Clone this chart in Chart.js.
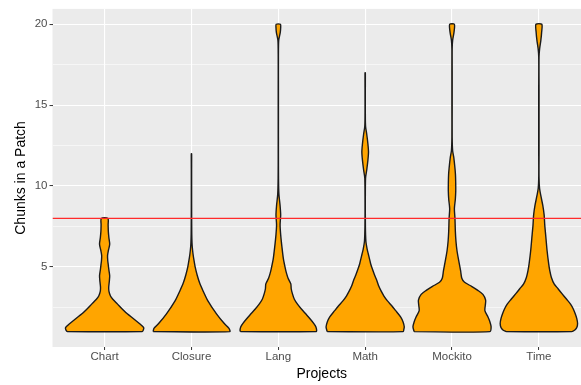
<!doctype html>
<meta charset="utf-8">
<style>
    html, body { margin: 0; background: #fff; overflow: hidden; }
</style>
<canvas id="chart" width="591" height="385"></canvas>
<script src="https://cdn.jsdelivr.net/npm/chart.js@4.4.1/dist/chart.umd.min.js"></script>
<script>
    const projects = ["Chart", "Closure", "Lang", "Math", "Mockito", "Time"];
    const cutoff = 8;
    const yTicks = [2.5, 5, 7.5, 10, 12.5, 15, 17.5, 20];

    // violin outlines: chunk count levels and relative half-width (1 = widest) at each level
    const chartY = [1.0, 1.1, 1.25, 1.5, 1.8, 2.1, 2.4, 2.7, 3.0, 3.2, 3.5, 3.75, 4.1, 4.45, 4.8, 5.1, 5.4, 5.7, 6.0, 6.4, 6.8, 7.2, 7.6, 8.0];
    const chartW = [0.96, 0.99, 1.0, 0.89, 0.74, 0.58, 0.45, 0.33, 0.21, 0.15, 0.11, 0.105, 0.12, 0.13, 0.11, 0.095, 0.08, 0.075, 0.095, 0.13, 0.11, 0.095, 0.09, 0.085];

    const closureY = [1.0, 1.2, 1.5, 2.1, 2.9, 3.5, 4.0, 4.5, 5.0, 5.4, 5.8, 6.2, 6.5, 7.0, 8.0, 9.0, 10.0, 11.0, 12.0];
    const closureW = [0.98, 0.96, 0.84, 0.64, 0.42, 0.30, 0.21, 0.145, 0.094, 0.065, 0.04, 0.022, 0.014, 0.008, 0.005, 0.004, 0.004, 0.004, 0.004];

    const langY = [1.0, 1.1, 1.3, 1.5, 1.8, 2.1, 2.4, 2.7, 3.0, 3.35, 3.65, 3.95, 4.3, 4.6, 4.9, 5.5, 6.2, 7.0, 7.6, 8.2, 8.8, 9.5, 10.5, 12, 14, 16, 18, 19.0, 19.5, 19.8, 20.0];
    const langW = [0.97, 0.98, 0.96, 0.91, 0.81, 0.70, 0.59, 0.49, 0.41, 0.36, 0.33, 0.32, 0.25, 0.21, 0.18, 0.13, 0.094, 0.06, 0.045, 0.06, 0.045, 0.015, 0.005, 0.003, 0.003, 0.003, 0.003, 0.01, 0.05, 0.06, 0.055];

    const mathY = [1.0, 1.15, 1.3, 1.6, 1.9, 2.3, 2.6, 2.9, 3.2, 3.5, 3.8, 4.15, 4.5, 4.9, 5.2, 5.5, 5.8, 6.1, 6.6, 7.5, 9.0, 10.5, 11.0, 11.6, 12.1, 12.6, 13.2, 13.7, 14.5, 16.0, 17.0];
    const mathW = [0.97, 0.99, 1.0, 0.97, 0.91, 0.78, 0.68, 0.57, 0.48, 0.41, 0.35, 0.30, 0.24, 0.18, 0.14, 0.11, 0.08, 0.05, 0.018, 0.006, 0.004, 0.01, 0.04, 0.07, 0.085, 0.07, 0.04, 0.01, 0.004, 0.004, 0.004];

    const mockitoY = [1.0, 1.3, 1.6, 1.9, 2.3, 2.6, 2.95, 3.3, 3.55, 3.8, 4.05, 4.3, 4.75, 5.4, 6.0, 6.6, 7.2, 8.0, 8.6, 9.2, 9.7, 10.2, 10.7, 11.1, 11.8, 12.2, 13.0, 15.0, 17.0, 18.5, 19.0, 19.5, 20.0];
    const mockitoW = [0.97, 1.0, 0.97, 0.92, 0.84, 0.85, 0.86, 0.79, 0.66, 0.5, 0.32, 0.25, 0.22, 0.17, 0.127, 0.10, 0.085, 0.075, 0.06, 0.085, 0.095, 0.094, 0.088, 0.075, 0.043, 0.015, 0.004, 0.004, 0.004, 0.004, 0.015, 0.05, 0.06];

    const timeY = [1.0, 1.1, 1.25, 1.5, 1.8, 2.1, 2.4, 2.7, 3.0, 3.35, 3.65, 3.95, 4.35, 4.75, 5.2, 6.0, 6.8, 7.6, 8.2, 8.8, 9.4, 9.85, 10.5, 12, 14, 16, 18.0, 18.5, 19.0, 19.5, 20.0];
    const timeW = [0.84, 0.92, 0.97, 0.99, 0.97, 0.93, 0.88, 0.81, 0.71, 0.59, 0.49, 0.39, 0.32, 0.28, 0.25, 0.21, 0.18, 0.15, 0.135, 0.10, 0.05, 0.018, 0.004, 0.004, 0.004, 0.004, 0.004, 0.02, 0.05, 0.07, 0.075];

    const violins = [
        [chartY, chartW], [closureY, closureW], [langY, langW],
        [mathY, mathW], [mockitoY, mockitoW], [timeY, timeW]
    ];

    const xMin = 0.4, xMax = 6.6;
    const halfWidth = 0.45;
    const font = "'Liberation Sans', Arial, Helvetica, sans-serif";

    // up the left side, down the right side, back to the start
    function outline(pos, ys, ws) {
        const left = ys.map((y, k) => ({x: pos - ws[k] * halfWidth, y}));
        const right = ys.map((y, k) => ({x: pos + ws[k] * halfWidth, y})).reverse();
        return left.concat(right, [left[0]]);
    }

    const datasets = violins.map(([ys, ws], i) => ({
        data: outline(i + 1, ys, ws),
        showLine: true,
        fill: "shape",
        backgroundColor: "#FFA500",
        borderColor: "#1a1a1a",
        borderWidth: 1.4,
        pointRadius: 0,
        tension: 0.25,
        order: 1
    }));

    datasets.push({
        data: [{x: xMin, y: cutoff}, {x: xMax, y: cutoff}],
        showLine: true,
        fill: false,
        borderColor: "#ff2a2a",
        borderWidth: 1.3,
        pointRadius: 0,
        order: 0
    });

    const panel = {
        id: "panel",
        beforeDraw(chart) {
            const {ctx, chartArea: a} = chart;
            ctx.save();
            ctx.fillStyle = "#EBEBEB";
            ctx.fillRect(a.left, a.top, a.right - a.left, a.bottom - a.top);
            ctx.restore();
        }
    };

    const isMajor = v => v % 5 === 0;

    new Chart(document.getElementById("chart"), {
        type: "scatter",
        data: {datasets},
        plugins: [panel],
        options: {
            responsive: false,
            animation: false,
            devicePixelRatio: 1,
            layout: {padding: {top: 5, right: 0, bottom: 0, left: 0}},
            plugins: {legend: {display: false}, tooltip: {enabled: false}},
            events: [],
            scales: {
                x: {
                    type: "linear",
                    min: xMin,
                    max: xMax,
                    afterBuildTicks(scale) {
                        scale.ticks = projects.map((p, i) => ({value: i + 1}));
                    },
                    afterFit(scale) { scale.height = 38; },
                    ticks: {
                        autoSkip: false,
                        maxRotation: 0,
                        padding: 0,
                        color: "#4D4D4D",
                        font: {family: font, size: 11.5},
                        callback: v => projects[v - 1]
                    },
                    grid: {color: "#fff", lineWidth: 1.1, tickLength: 3, tickColor: "#333", tickWidth: 1},
                    border: {display: false},
                    title: {
                        display: true,
                        text: "Projects",
                        color: "#000",
                        font: {family: font, size: 14},
                        padding: {top: 0, bottom: 2}
                    }
                },
                y: {
                    min: 0.05,
                    max: 20.95,
                    afterBuildTicks(scale) {
                        scale.ticks = yTicks.map(v => ({value: v}));
                    },
                    afterFit(scale) { scale.width = 52.5; },
                    ticks: {
                        padding: 2,
                        color: "#4D4D4D",
                        font: {family: font, size: 11.5},
                        callback: v => isMajor(v) ? v : ""
                    },
                    grid: {
                        color: "#fff",
                        lineWidth: c => c.tick && isMajor(c.tick.value) ? 1.1 : 0.55,
                        tickLength: 3,
                        tickWidth: 1,
                        tickColor: c => c.tick && isMajor(c.tick.value) ? "#333" : "rgba(0,0,0,0)"
                    },
                    border: {display: false},
                    title: {
                        display: true,
                        text: "Chunks in a Patch",
                        color: "#000",
                        font: {family: font, size: 14},
                        padding: {top: 12.6, bottom: 0}
                    }
                }
            }
        }
    });
</script>
